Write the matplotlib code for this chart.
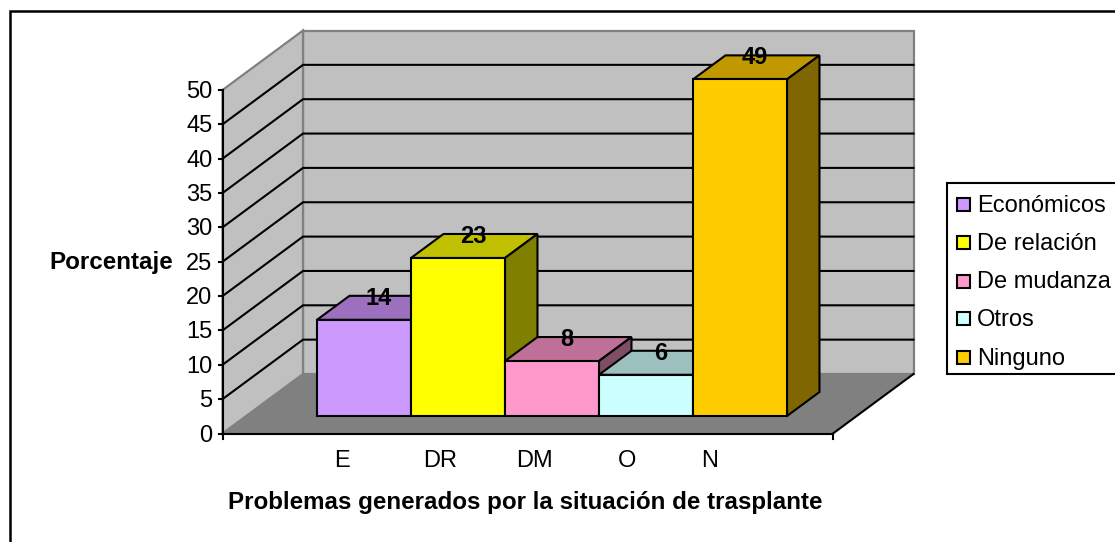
import matplotlib
matplotlib.use("Agg")
import matplotlib.pyplot as plt
from matplotlib.patches import Polygon, Rectangle

plt.rcParams['font.family'] = ['Liberation Sans', 'DejaVu Sans']

# ---- data ----
series_names = ['Económicos', 'De relación', 'De mudanza', 'Otros', 'Ninguno']
values = [14, 23, 8, 6, 49]
category_labels = ['E', 'DR', 'DM', 'O', 'N']
yticks = [0, 5, 10, 15, 20, 25, 30, 35, 40, 45, 50]
front_colors = ['#CC99FF', '#FFFF00', '#FF99CC', '#CCFFFF', '#FFCC00']
top_colors = ['#9C70BE', '#C0C000', '#BE7098', '#9CC0BE', '#C09800']
side_colors = ['#664D80', '#808000', '#804D66', '#668080', '#806600']
ylabel = 'Porcentaje'
xlabel = 'Problemas generados por la situación de trasplante'

W, H = 1115, 542
FS = 17
FSB = 17.4
fig = plt.figure(figsize=(W / 100, H / 100), dpi=100, facecolor='white')
ax = fig.add_axes([0, 0, 1, 1])
ax.set_xlim(0, W)
ax.set_ylim(H, 0)
ax.axis('off')

# oblique projection of the chart box
X0, Y0 = 222.5, 433.5
XR = 833.0
PXV = (433.5 - 90.0) / 50.0
DX, DY = 80.5, -59.5


def pt(x, v, d=0.0):
    return (x + DX * d, Y0 - v * PXV + DY * d)


lw = 1.5
BK = 'black'
GR = '#808080'

# frame (its right and bottom edges lie outside the picture)
ax.add_patch(Rectangle((9.5, 10.5), W + 50, H + 50, fc='white', ec=BK, lw=1.8, zorder=0))

# walls
ymax = yticks[-1]
ax.add_patch(Polygon([pt(X0, 0, 1), pt(XR, 0, 1), pt(XR, ymax, 1), pt(X0, ymax, 1)], fc='#C0C0C0', ec=GR, lw=1.6, zorder=1))
ax.add_patch(Polygon([pt(X0, 0), pt(X0, 0, 1), pt(X0, ymax, 1), pt(X0, ymax)], fc='#C0C0C0', ec=GR, lw=1.6, zorder=1))
ax.add_patch(Polygon([pt(X0, 0), pt(XR, 0), pt(XR, 0, 1), pt(X0, 0, 1)], fc=GR, ec='none', zorder=1))

# gridlines
for t in yticks[1:-1]:
    ax.plot(*zip(pt(X0, t), pt(X0, t, 1), pt(XR, t, 1)), color=BK, lw=lw, zorder=2, solid_joinstyle='miter')
ax.plot(*zip(pt(XR, 0), pt(XR, 0, 1)), color=BK, lw=lw, zorder=2)

# axes
ax.plot(*zip(pt(X0, 0), pt(X0, ymax)), color=BK, lw=lw, zorder=3)
ax.plot(*zip(pt(X0, 0), pt(XR, 0)), color=BK, lw=lw, zorder=3)
for t in yticks:
    x, y = pt(X0, t)
    ax.plot([x - 4, x], [y, y], color=BK, lw=lw, zorder=3)
    ax.text(x - 10, y + 2, str(t), ha='right', va='center', fontsize=FS, zorder=3)
for x in (X0, XR):
    ax.plot([x, x], [Y0, Y0 + 5], color=BK, lw=lw, zorder=3)

# bars
D0, D1 = 17.5 / 59.5, 41.5 / 59.5
BAR_W = 94.0
BAR_X0 = 317.0 - DX * D0
for i, v in enumerate(values):
    l = BAR_X0 + i * BAR_W
    r = l + BAR_W
    ec = dict(ec=BK, lw=1.5, joinstyle='miter', zorder=4 + i)
    ax.add_patch(Polygon([pt(l, v, D0), pt(r, v, D0), pt(r, v, D1), pt(l, v, D1)], fc=top_colors[i], **ec))
    ax.add_patch(Polygon([pt(r, 0, D0), pt(r, 0, D1), pt(r, v, D1), pt(r, v, D0)], fc=side_colors[i], **ec))
    ax.add_patch(Polygon([pt(l, 0, D0), pt(r, 0, D0), pt(r, v, D0), pt(l, v, D0)], fc=front_colors[i], **ec))
for i, v in enumerate(values):
    l = BAR_X0 + i * BAR_W
    x, y = pt(l + BAR_W / 2, v, D0)
    _, yb = pt(l, v, D1)
    ax.text(x + 15, yb + 2.5, str(v), ha='center', va='center', fontsize=FS, fontweight='bold', zorder=20)

# category labels
for name, x in zip(category_labels, [342, 440, 535, 627, 710]):
    ax.text(x, 461, name, ha='center', va='center', fontsize=FS, zorder=3)

ax.text(111.5, 263, ylabel, ha='center', va='center', fontsize=FSB, fontweight='bold')
ax.text(525.5, 503, xlabel, ha='center', va='center', fontsize=FSB, fontweight='bold')

# legend
ax.add_patch(Rectangle((946.5, 182.5), 175, 191.5, fc='white', ec=BK, lw=1.5, zorder=3))
for name, c, y in zip(series_names, front_colors, [204, 242.5, 281, 318.5, 357]):
    ax.add_patch(Rectangle((956.5, y - 6.5), 13, 13, fc=c, ec=BK, lw=1.5, zorder=4))
    ax.text(977, y + 1.5, name, ha='left', va='center', fontsize=FS, zorder=4)

fig.savefig('out.png', dpi=100, facecolor='white')
